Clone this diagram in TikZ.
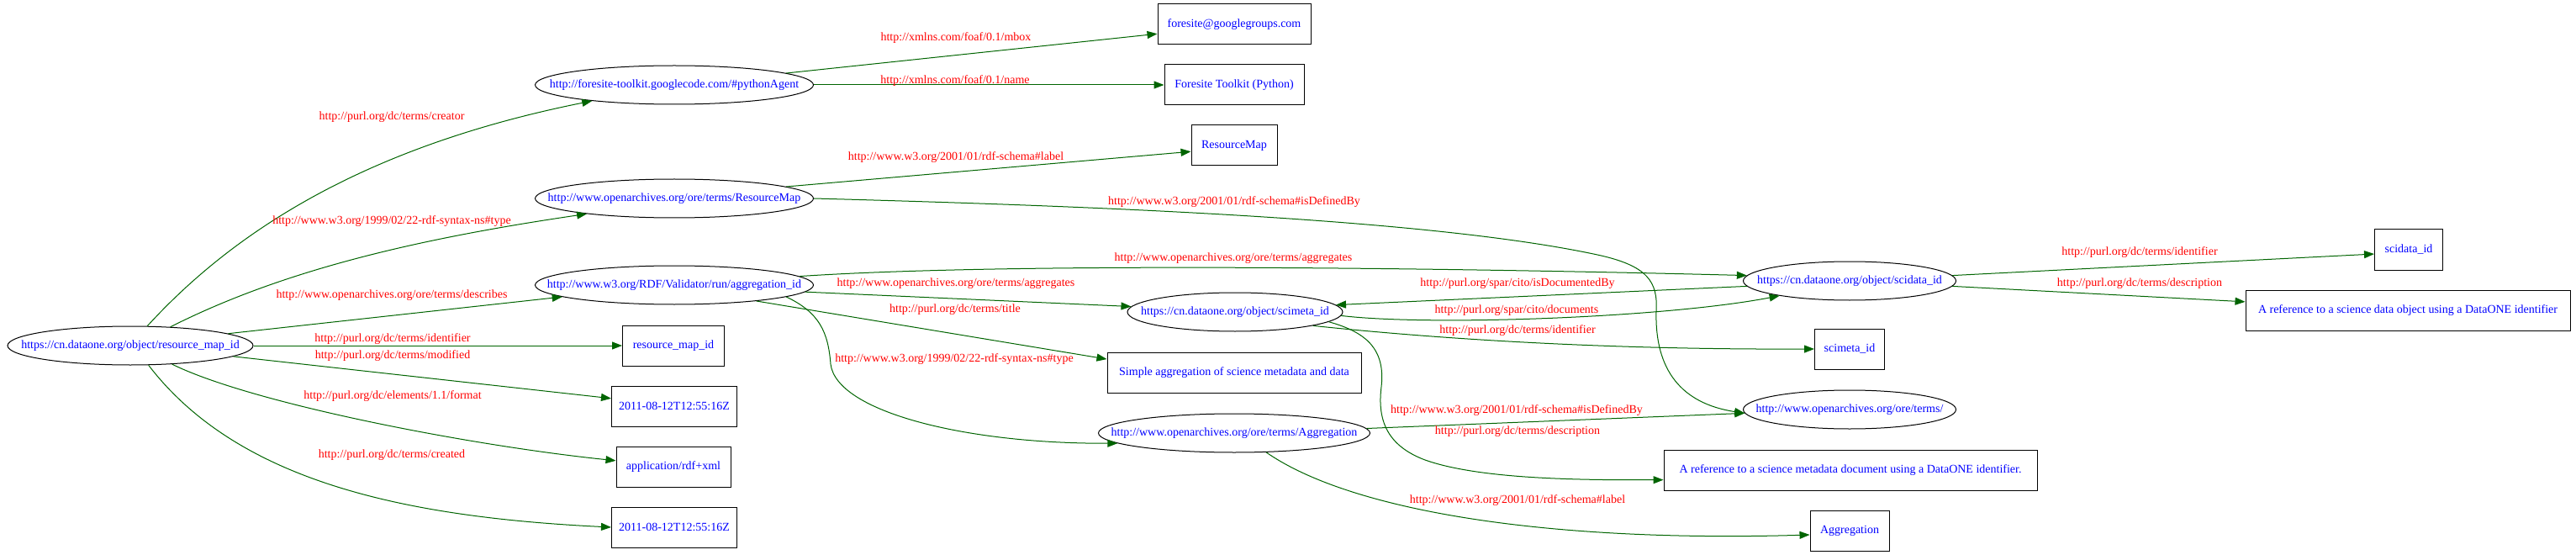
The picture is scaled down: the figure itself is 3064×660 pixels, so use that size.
\documentclass[tikz,border=0pt]{standalone}
\usepackage{fontspec}
\setmainfont{Liberation Serif}
\usetikzlibrary{shapes.geometric,arrows.meta}
\definecolor{edgegreen}{RGB}{0,100,0}
\tikzset{
  txt/.style={font=\fontsize{14}{16}\selectfont, inner sep=0pt},
  ell/.style={ellipse, draw=black, line width=1pt, inner sep=0pt, minimum height=46pt, minimum width=#1},
  ntext/.style={txt, text=blue},
  box/.style={rectangle, draw=black, line width=1pt, txt, text=blue, minimum height=48pt, minimum width=#1},
  lbl/.style={txt, text=red},
  edge/.style={draw=edgegreen, line width=1pt, -{Triangle[length=12pt,width=9pt]}},
}
\begin{document}
\begin{tikzpicture}[x=1pt,y=-1pt]
\useasboundingbox (0,0) rectangle (3064,660);
% ellipse nodes
\node[ell=292pt, label={[ntext]center:https://cn.dataone.org/object/resource\_map\_id}] (rm) at (155,411) {};
\node[ell=331pt, label={[ntext]center:http://foresite-toolkit.googlecode.com/\#pythonAgent}] (pa) at (802,101) {};
\node[ell=331pt, label={[ntext]center:http://www.openarchives.org/ore/terms/ResourceMap}] (rmc) at (802,236) {};
\node[ell=331pt, label={[ntext]center:http://www.w3.org/RDF/Validator/run/aggregation\_id}] (agg) at (802,339) {};
\node[ell=256pt, label={[ntext]center:https://cn.dataone.org/object/scimeta\_id}] (scm) at (1469,371) {};
\node[ell=323pt, label={[ntext]center:http://www.openarchives.org/ore/terms/Aggregation}] (aggr) at (1468,515) {};
\node[ell=253pt, label={[ntext]center:https://cn.dataone.org/object/scidata\_id}] (scd) at (2200,334) {};
\node[ell=253pt, label={[ntext]center:http://www.openarchives.org/ore/terms/}] (terms) at (2200,487) {};
% box nodes
\node[box=182pt] (mbox) at (1468,29) {foresite@googlegroups.com};
\node[box=166pt] (fname) at (1468,101) {Foresite Toolkit (Python)};
\node[box=102pt] (rmlabel) at (1468,173) {ResourceMap};
\node[box=121pt] (rmid) at (801,411) {resource\_map\_id};
\node[box=149pt] (mod) at (802,483) {2011-08-12T12:55:16Z};
\node[box=136pt] (fmt) at (801,555) {application/rdf+xml};
\node[box=149pt] (crt) at (802,627) {2011-08-12T12:55:16Z};
\node[box=302pt] (title) at (1468,443) {Simple aggregation of science metadata and data};
\node[box=83pt] (scmid) at (2200,415) {scimeta\_id};
\node[box=444pt] (scmdesc) at (2201,559) {A reference to a science metadata document using a DataONE identifier.};
\node[box=94pt] (agglabel) at (2200,631) {Aggregation};
\node[box=81pt] (scdid) at (2865,297) {scidata\_id};
\node[box=386pt] (scddesc) at (2864,369) {A reference to a science data object using a DataONE identifier};
% edges
\draw[edge] (rm.49) .. controls (282,271) and (440,173) .. (pa.-169);
\draw[edge] (rm.25) .. controls (333,323) and (489,285) .. (rmc.-170);
\draw[edge] (rm.7) -- (agg.-174);
\draw[edge] (rm.east) -- (rmid.west);
\draw[edge] (rm.-6) -- (mod.173);
\draw[edge] (rm.-24) .. controls (300,480) and (560,530) .. (fmt.174);
\draw[edge] (rm.-47) .. controls (283,573) and (482,615) .. (crt.west);
\draw[edge] (pa.6) -- (mbox.187);
\draw[edge] (pa.east) -- (fname.west);
\draw[edge] (rmc.6) -- (rmlabel.188);
\draw[edge] (rmc.east) .. controls (1300,245) and (1700,260) .. (1900,303)
  .. controls (1960,316) and (1972,335) .. (1970,370)
  .. controls (1968,440) and (2000,480) .. (terms.182);
\draw[edge] (agg.4) .. controls (1200,312) and (1700,318) .. (scd.177);
\draw[edge] (agg.-3) -- (scm.177);
\draw[edge] (agg.-11) -- (title.174);
\draw[edge] (agg.-6) .. controls (975,372) and (985,395) .. (988,433)
  .. controls (995,490) and (1150,528) .. (aggr.185);
\draw[edge] (scd.183) -- (scm.4);
\draw[edge] (scm.-2) .. controls (1700,388) and (1980,378) .. (scd.-168);
\draw[edge] (scm.-10) .. controls (1700,402) and (1900,416) .. (scmid.west);
\draw[edge] (scm.-6) .. controls (1625,395) and (1648,415) .. (1643,460)
  .. controls (1638,500) and (1650,530) .. (1695,547)
  .. controls (1760,570) and (1880,571) .. (scmdesc.183);
\draw[edge] (aggr.2) -- (terms.182);
\draw[edge] (aggr.-31) .. controls (1610,610) and (1850,645) .. (agglabel.186);
\draw[edge] (scd.3) -- (scdid.187);
\draw[edge] (scd.-3) -- (scddesc.177);
% edge labels
\node[lbl] (l1) at (466,139) {http://purl.org/dc/terms/creator};
\node[lbl] (l2) at (466,263) {http://www.w3.org/1999/02/22-rdf-syntax-ns\#type};
\node[lbl] (l3) at (466,351) {http://www.openarchives.org/ore/terms/describes};
\node[lbl] (l4) at (467,403) {http://purl.org/dc/terms/identifier};
\node[lbl] (l5) at (467,423) {http://purl.org/dc/terms/modified};
\node[lbl] (l6) at (467,471) {http://purl.org/dc/elements/1.1/format};
\node[lbl] (l7) at (466,541) {http://purl.org/dc/terms/created};
\node[lbl] (l8) at (1137,45) {http://xmlns.com/foaf/0.1/mbox};
\node[lbl] (l9) at (1136,96) {http://xmlns.com/foaf/0.1/name};
\node[lbl] (l10) at (1137,187) {http://www.w3.org/2001/01/rdf-schema\#label};
\node[lbl] (l11) at (1468,240) {http://www.w3.org/2001/01/rdf-schema\#isDefinedBy};
\node[lbl] (l12) at (1467,307) {http://www.openarchives.org/ore/terms/aggregates};
\node[lbl] (l13) at (1137,337) {http://www.openarchives.org/ore/terms/aggregates};
\node[lbl] (l14) at (1136,368) {http://purl.org/dc/terms/title};
\node[lbl] (l15) at (1135,427) {http://www.w3.org/1999/02/22-rdf-syntax-ns\#type};
\node[lbl] (l16) at (1805,337) {http://purl.org/spar/cito/isDocumentedBy};
\node[lbl] (l17) at (1804,369) {http://purl.org/spar/cito/documents};
\node[lbl] (l18) at (1805,393) {http://purl.org/dc/terms/identifier};
\node[lbl] (l19) at (1804,488) {http://www.w3.org/2001/01/rdf-schema\#isDefinedBy};
\node[lbl] (l20) at (1805,513) {http://purl.org/dc/terms/description};
\node[lbl] (l21) at (1805,595) {http://www.w3.org/2001/01/rdf-schema\#label};
\node[lbl] (l22) at (2545,300) {http://purl.org/dc/terms/identifier};
\node[lbl] (l23) at (2545,337) {http://purl.org/dc/terms/description};
\end{tikzpicture}
\end{document}
